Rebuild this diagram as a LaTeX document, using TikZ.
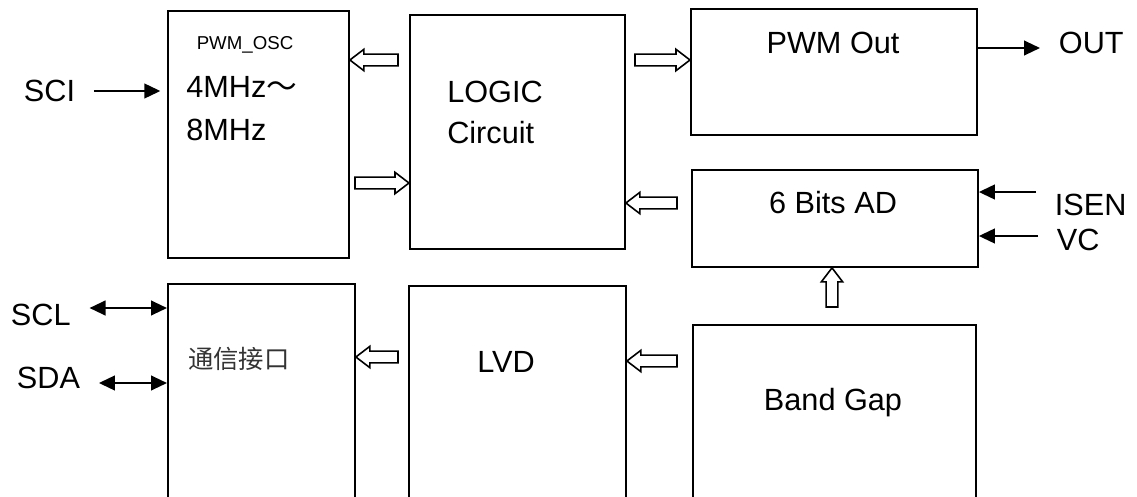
\documentclass[tikz,border=0pt]{standalone}
\usepackage{fontspec}
\setmainfont{Liberation Sans}
\newfontfamily\cjk{Noto Sans CJK SC}
\usetikzlibrary{arrows.meta, calc, positioning}

\begin{document}
\begin{tikzpicture}[
    x=0.75pt, y=-0.75pt,
    block/.style={draw, line width=1.4pt, anchor=north west, inner sep=0pt},
    txt/.style={inner sep=0pt, font=\fontsize{23}{28}\selectfont},
    pin/.style={inner ysep=0pt, inner xsep=14pt, anchor=west, font=\fontsize{23}{28}\selectfont},
    sig/.style={line width=1.6pt, -{Triangle[length=12pt, width=11pt]}},
    bus/.style={line width=1.6pt, {Triangle[length=12pt, width=11pt]}-{Triangle[length=12pt, width=11pt]}},
    hollow/.style={draw, fill=white, line width=1.2pt, to path={
        let \p1=(\tikztostart), \p2=(\tikztotarget), \p3=($(\p2)!10.5pt!(\p1)$) in
        ($(\p1)!4.4pt!90:(\p2)$) -- ($(\p3)!4.4pt!-90:(\p1)$) -- ($(\p3)!8pt!-90:(\p1)$) -- (\p2)
        -- ($(\p3)!8pt!90:(\p1)$) -- ($(\p3)!4.4pt!90:(\p1)$) -- ($(\p1)!4.4pt!-90:(\p2)$) -- cycle}}
]
\useasboundingbox (0,0) rectangle (1137,496);
\clip (0,0) rectangle (1137,496);

% Blocks
\node[block, minimum width=135.75pt, minimum height=185.25pt] (osc) at (167,10) {};
\node[block, minimum width=161.25pt, minimum height=175.5pt] (logic) at (409,14) {};
\node[block, minimum width=214.5pt, minimum height=94.5pt] (pwm) at (690,8) {};
\node[block, minimum width=214.5pt, minimum height=72.75pt] (adc) at (691,169) {};
\node[block, minimum width=140.25pt, minimum height=180pt] (comm) at (167,283) {};
\node[block, minimum width=162.75pt, minimum height=180pt] (lvd) at (408,285) {};
\node[block, minimum width=212.25pt, minimum height=180pt] (bandgap) at (692,324) {};

% Block texts
\node[txt, font=\fontsize{14}{16}\selectfont, anchor=base] (osctitle) at (245,49) {PWM\_OSC};
\node[txt, anchor=base west] (oscfa) at (186,97) {4MHz{\cjk ～}};
\node[txt, anchor=base west] (oscfb) at (186,140) {8MHz};
\node[txt, anchor=base west] (logica) at (447,102) {LOGIC};
\node[txt, anchor=base west] (logicb) at (447,143) {Circuit};
\node[txt, anchor=base] (pwmtxt) at (833,53) {PWM Out};
\node[txt, anchor=base] (adctxt) at (833,213) {6 Bits AD};
\node[txt, anchor=base west, font=\cjk\fontsize{19}{22}\selectfont, text=black!80] (commtxt) at (188,368) {通信接口};
\node[txt, anchor=base] (lvdtxt) at (506,372) {LVD};
\node[txt, anchor=base] (bgtxt) at (833,410) {Band Gap};

% Pins
\node[pin] (sci) at (5,91) {SCI};
\node[pin] (out) at (1040,43) {OUT};
\node[pin] (isen) at (1036,205) {ISEN};
\node[pin] (vc) at (1038,240) {VC};
\node[pin] (scl) at (-8,315) {SCL};
\node[pin] (sda) at (-2,378) {SDA};

\draw[sig] (sci) -- ([xshift=-5pt]sci -| osc.west);
\draw[sig] ([yshift=-3.75pt]out.west -| pwm.east) -- ([yshift=-3.75pt]out.west);
\draw[sig] ([yshift=9.75pt]isen.west) -- ([yshift=9.75pt]isen.west -| adc.east);
\draw[sig] ([yshift=3pt]vc.west) -- ([yshift=3pt]vc.west -| adc.east);
\draw[bus] ([yshift=5.25pt]scl.east) -- ([yshift=5.25pt]scl.east -| comm.west);
\draw[bus] ([yshift=-3.75pt]sda.east) -- ([yshift=-3.75pt]sda.east -| comm.west);

% Internal data paths
\coordinate (t1) at (398,60);
\coordinate (t2) at (355,183);
\coordinate (t3) at (635,60);
\coordinate (t4) at (677,203);
\coordinate (t5) at (832,307);
\coordinate (t6) at (398,357);
\coordinate (t7) at (677,361);
\draw[hollow] (t1) to (t1 -| osc.east);
\draw[hollow] (t2) to (t2 -| logic.west);
\draw[hollow] (t3) to (t3 -| pwm.west);
\draw[hollow] (t4) to (t4 -| logic.east);
\draw[hollow] (t5) to (t5 |- adc.south);
\draw[hollow] (t6) to (t6 -| comm.east);
\draw[hollow] (t7) to (t7 -| lvd.east);

\end{tikzpicture}
\end{document}
